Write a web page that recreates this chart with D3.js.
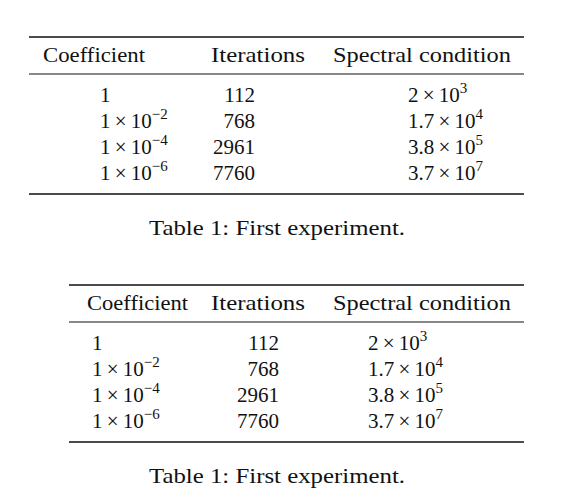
<!DOCTYPE html>
<html><head><meta charset="utf-8">
<script src="https://cdn.jsdelivr.net/npm/d3@7"></script>
<style>body{margin:0;background:#fff}text{font-family:"Liberation Serif","DejaVu Serif","Times New Roman",serif;fill:#111}</style>
</head><body><svg id="c" width="581" height="504"></svg>
<script>
const headers = ["Coefficient", "Iterations", "Spectral condition"];
const coefMantissa = ["1", "1", "1", "1"];
const coefExponent = [null, "−2", "−4", "−6"];
const iterations = [112, 768, 2961, 7760];
const specMantissa = ["2", "1.7", "3.8", "3.7"];
const specExponent = ["3", "4", "5", "7"];
const caption = "Table 1: First experiment.";

const svg = d3.select("#c");
const tables = [
  {top:37, x0:29, x1:524, hx:[43,211,333], hw:[102,94,178], cx:100, ix:255, sx:408, capY:235},
  {top:285, x0:69, x1:524, hx:[87,211,333], hw:[101,94,178], cx:92, ix:279, sx:368, capY:483}
];
tables.forEach(t => {
  const g = svg.append("g");
  const y = d3.scalePoint().domain(d3.range(4)).range([t.top+65, t.top+143]);
  g.append("line").attr("x1",t.x0).attr("x2",t.x1).attr("y1",t.top).attr("y2",t.top).attr("stroke","#111").attr("stroke-width",1.6);
  g.append("line").attr("x1",t.x0).attr("x2",t.x1).attr("y1",t.top+37).attr("y2",t.top+37).attr("stroke","#111").attr("stroke-width",1);
  g.append("line").attr("x1",t.x0).attr("x2",t.x1).attr("y1",t.top+157).attr("y2",t.top+157).attr("stroke","#111").attr("stroke-width",1.6);
  headers.forEach((h,i) => g.append("text").attr("x",t.hx[i]).attr("y",t.top+25).attr("font-size",21)
    .attr("font-family","Liberation Serif, DejaVu Serif, serif")
    .attr("textLength",t.hw[i]).attr("lengthAdjust","spacingAndGlyphs").text(h));
  const sup = (sel, m, e) => {
    sel.append("tspan").text(m + (e ? "\u2009×\u200910" : ""));
    if (e) sel.append("tspan").attr("font-size",15).attr("dy",-9).text(e);
  };
  d3.range(4).forEach(i => {
    sup(g.append("text").attr("x",t.cx).attr("y",y(i)).attr("font-size",21).attr("font-family","Liberation Serif, DejaVu Serif, serif"), coefMantissa[i], coefExponent[i]);
    g.append("text").attr("x",t.ix).attr("y",y(i)).attr("font-size",21).attr("font-family","Liberation Serif, DejaVu Serif, serif").attr("text-anchor","end").text(iterations[i]);
    sup(g.append("text").attr("x",t.sx).attr("y",y(i)).attr("font-size",21).attr("font-family","Liberation Serif, DejaVu Serif, serif"), specMantissa[i], specExponent[i]);
  });
  g.append("text").attr("x",149).attr("y",t.capY).attr("font-size",21).attr("font-family","Liberation Serif, DejaVu Serif, serif").attr("textLength",256)
    .attr("lengthAdjust","spacingAndGlyphs").text(caption);
});
</script></body></html>
